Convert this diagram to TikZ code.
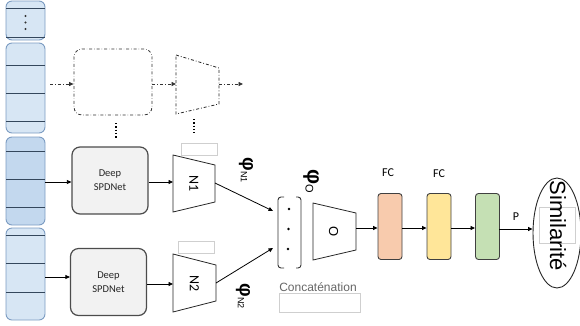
\documentclass[tikz,border=0pt]{standalone}
\usepackage{fontspec}
\usetikzlibrary{arrows.meta,shapes.geometric}
\newfontfamily\carl{Carlito}
\newfontfamily\arl{Liberation Sans}
\definecolor{colfill}{HTML}{D7E6F4}
\definecolor{colfilldark}{HTML}{C3D8EE}
\definecolor{colborder}{HTML}{7C9CC2}
\definecolor{colline}{HTML}{34475C}
\definecolor{spdfill}{HTML}{F2F2F2}
\definecolor{fcA}{HTML}{F8CBAD}
\definecolor{fcB}{HTML}{FFE699}
\definecolor{fcC}{HTML}{C5E0B4}
\definecolor{ghost}{HTML}{CFCFCF}
\tikzset{
  colblock/.style={draw=colborder, fill=colfill, line width=0.9pt, rounded corners=6pt},
  colsep/.style={draw=colline, line width=0.9pt},
  spd/.style={draw=black!70, fill=spdfill, line width=1.2pt, rounded corners=8pt,
    minimum width=76pt, minimum height=67pt, align=center,
    font=\carl\fontsize{10.5}{14}\selectfont, text=black!85},
  trap/.style={draw=black!85, line width=0.8pt},
  trlabel/.style={rotate=-90, font=\carl\fontsize{14}{14}\selectfont},
  fcbox/.style={draw=black!75, line width=0.9pt, rounded corners=3pt,
    minimum width=24pt, minimum height=66pt, inner sep=0pt},
  arr/.style={-{Triangle[length=4.5pt,width=4pt]}, line width=0.8pt},
  ddarr/.style={-{Triangle[length=4.5pt,width=4pt]}, line width=0.8pt, dash dot, draw=black!80},
  ghostbox/.style={draw=ghost, line width=0.6pt},
  phitext/.style={rotate=-90, inner sep=0pt},
}
\begin{document}
\begin{tikzpicture}[x=1pt,y=-1pt]
\useasboundingbox (0,0) rectangle (580,325);

% ---- left column of blocks
\draw[colblock] (6,1) rectangle (45,40);
\draw[colsep] (6,8) -- (45,8);
\draw[colsep] (6,37) -- (45,37);
\fill[black!80] (25.5,16) circle (1.1pt) (25.5,22.5) circle (1.1pt) (25.5,29) circle (1.1pt);

\draw[colblock] (6,43) rectangle (45,133);
\foreach \yy in {65,93,121} \draw[colsep] (6,\yy) -- (45,\yy);

\draw[colblock, fill=colfilldark] (6,137) rectangle (45,225);
\foreach \yy in {151,179,207} \draw[colsep] (6,\yy) -- (45,\yy);

\draw[colblock] (6,228) rectangle (45,320);
\foreach \yy in {235,263,292} \draw[colsep] (6,\yy) -- (45,\yy);

% ---- top dash-dot row
\coordinate (t0) at (50,84);
\node[draw=black!80, dash dot, line width=0.8pt, rounded corners=8pt,
  minimum width=78pt, minimum height=66pt] (tbox) at (113,82) {};
\draw[trap, dash dot] (176,55) -- (219,68) -- (219,104) -- (176,114) -- cycle;
\coordinate (ttin) at (176,84);
\coordinate (ttout) at (219,84);
\coordinate (tend) at (243,84);
\draw[ddarr] (t0) -- (t0 -| tbox.west);
\draw[ddarr] (tbox.east |- ttin) -- (ttin);
\draw[ddarr] (ttout) -- (tend);
\draw[line width=1.3pt, dotted] (116,123) -- (116,138);
\draw[line width=1.3pt, dotted] (194,119) -- (194,133);

% ---- branch 1
\coordinate (c1) at (45,182);
\node[spd] (d1) at (110,180.5) {Deep\\SPDNet};
\draw[trap] (173,155) -- (215,165) -- (215,202) -- (173,212) -- cycle;
\node[trlabel] (n1) at (194,183.5) {N1};
\coordinate (n1in) at (173,182);
\coordinate (n1out) at (215,183);
\draw[arr] (c1) -- (c1 -| d1.west);
\draw[arr] (d1.east |- n1in) -- (n1in);
\draw[ghostbox] (181,143) rectangle (217,155);

% ---- branch 2
\coordinate (c2) at (45,277);
\node[spd] (d2) at (108.5,282) {Deep\\SPDNet};
\draw[trap] (173,254) -- (216,265) -- (216,301) -- (173,312) -- cycle;
\node[trlabel] (n2) at (194.5,283.5) {N2};
\coordinate (n2in) at (173,284);
\coordinate (n2out) at (216,283);
\draw[arr] (c2) -- (c2 -| d2.west);
\draw[arr] (d2.east |- n2in) -- (n2in);
\draw[ghostbox] (178,241) rectangle (214,253);

% ---- phi labels
\node[phitext] (phi1) at (246,170) {\arl\bfseries\fontsize{19}{19}\selectfont φ\raisebox{-2pt}{\mdseries\fontsize{9}{9}\selectfont N1}};
\node[phitext] (phi2) at (243,296) {\arl\bfseries\fontsize{19}{19}\selectfont φ\raisebox{-2pt}{\mdseries\fontsize{9}{9}\selectfont N2}};
\node[phitext] (phio) at (311,181) {\arl\bfseries\fontsize{21}{21}\selectfont φ\raisebox{-2pt}{\mdseries\fontsize{11}{11}\selectfont O}};

% ---- concatenation
\coordinate (cin1) at (273,211);
\coordinate (cin2) at (273,248);
\draw[arr] (n1out) -- (cin1);
\draw[arr] (n2out) -- (cin2);
\draw[black!80, line width=0.9pt, rounded corners=3pt] (284,197) -- (278,197) -- (278,268) -- (284,268);
\draw[black!80, line width=0.9pt, rounded corners=3pt] (296,197) -- (301,197) -- (301,268) -- (296,268);
\fill[black] (289,209) circle (1.3pt) (288.5,229) circle (1.3pt) (288,249) circle (1.3pt);
\node[font=\arl\fontsize{12}{12}\selectfont, text=black!60] (concat) at (318,287) {Concaténation};
\draw[ghostbox] (279,293) rectangle (360,312);

% ---- O block
\draw[trap] (313,203) -- (356,213) -- (356,250) -- (313,260) -- cycle;
\node[rotate=-90, font=\arl\fontsize{13}{13}\selectfont] (o) at (333.5,231.5) {O};
\coordinate (oout) at (356,228);

% ---- FC boxes
\node[fcbox, fill=fcA] (fc1) at (390,226.5) {};
\node[fcbox, fill=fcB] (fc2) at (439,226.5) {};
\node[fcbox, fill=fcC] (fc3) at (487.5,226.5) {};
\node[font=\carl\fontsize{12}{12}\selectfont] (fcl1) at (388,173) {FC};
\node[font=\carl\fontsize{12}{12}\selectfont] (fcl2) at (439,174) {FC};
\draw[arr] (oout) -- (oout -| fc1.west);
\draw[arr] ([yshift=-1.5pt]fc1.east) -- ([yshift=-1.5pt]fc2.west);
\draw[arr] ([yshift=-1.5pt]fc2.east) -- ([yshift=-1.5pt]fc3.west);

% ---- similarity
\node[draw=black!85, line width=0.9pt, ellipse, minimum width=48pt, minimum height=110pt, inner sep=0pt] (sim) at (557,233) {};
\draw[ghostbox] (539,207) rectangle (575,243);
\node[rotate=-90, inner sep=0pt, font=\arl\fontsize{22}{22}\selectfont] (simt) at (558,226) {Similarité};
\coordinate (pout) at (499,229);
\draw[arr] (pout) -- (sim.west |- pout);
\node[font=\carl\fontsize{12}{12}\selectfont] (plab) at (516,217) {P};
\end{tikzpicture}
\end{document}
